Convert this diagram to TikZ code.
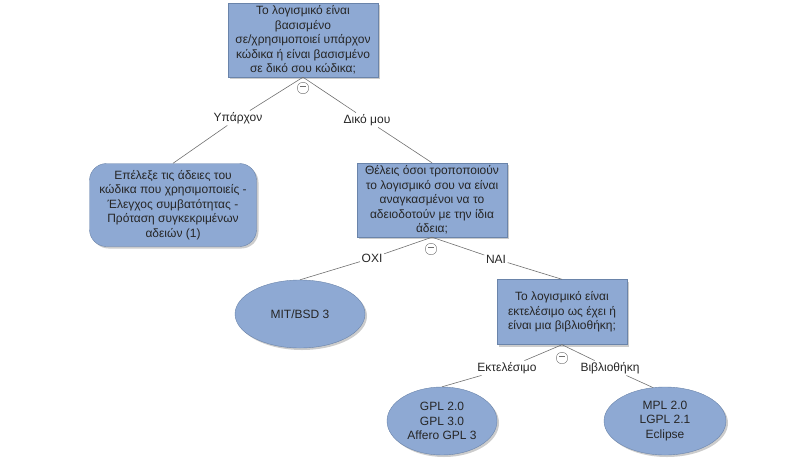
\documentclass[tikz,border=0pt]{standalone}
\usepackage{fontspec}
\setmainfont{Liberation Sans}
\usetikzlibrary{shapes.geometric,shadows}
\definecolor{qblue}{HTML}{8EA9D3}
\definecolor{qedge}{HTML}{6A84AA}
\definecolor{qline}{HTML}{707070}
\newcommand{\qfont}{\fontsize{12}{14.4}\selectfont}

\begin{document}
\begin{tikzpicture}[x=1pt, y=-1pt,
  qshadow/.style={drop shadow={shadow xshift=2pt, shadow yshift=-2pt, fill=black!40}},
  qbox/.style={rectangle, draw=qedge, fill=qblue, qshadow, align=center,
               font=\qfont, text=black!85, inner sep=2pt},
  qround/.style={qbox, rounded corners=17pt},
  qleaf/.style={ellipse, draw=qedge, fill=qblue, qshadow, align=center,
                font=\qfont, text=black!85, inner sep=0pt},
  choice/.style={font=\qfont, text=black!85, inner sep=1.5pt},
  minus/.style={circle, draw=qline, inner sep=0pt, minimum size=11.5pt},
  link/.style={qline, line width=0.6pt},
]
\useasboundingbox (0,0) rectangle (791,458);

\node[qbox, minimum width=150pt, minimum height=74pt] (q1) at (303,40)
  {Το λογισμικό είναι\\βασισμένο\\σε/χρησιμοποιεί υπάρχον\\κώδικα ή είναι βασισμένο\\σε δικό σου κώδικα;};
\node[minus] (m1) at (303,88) {\textcolor{qline}{\rule[2.6pt]{6pt}{0.8pt}}};
\node[choice] (c1) at (238,118) {Υπάρχον};
\node[choice] (c2) at (367,120) {Δικό μου};

\node[qround, minimum width=167pt, minimum height=83pt] (r1) at (173,205)
  {Επέλεξε τις άδειες του\\κώδικα που χρησιμοποιείς -\\Έλεγχος συμβατότητας -\\Πρόταση συγκεκριμένων\\αδειών (1)};

\node[qbox, minimum width=150pt, minimum height=74pt] (q2) at (432,200)
  {Θέλεις όσοι τροποποιούν\\το λογισμικό σου να είναι\\αναγκασμένοι να το\\αδειοδοτούν με την ίδια\\άδεια;};
\node[minus] (m2) at (431,249) {\textcolor{qline}{\rule[2.6pt]{6pt}{0.8pt}}};
\node[choice] (c3) at (372,258) {ΟΧΙ};
\node[choice] (c4) at (496,259) {ΝΑΙ};

\node[qleaf, minimum width=130pt, minimum height=68pt] (l1) at (300,314) {MIT/BSD 3};

\node[qbox, minimum width=130pt, minimum height=65pt] (q3) at (562,312)
  {Το λογισμικό είναι\\εκτελέσιμο ως έχει ή\\είναι μια βιβλιοθήκη;};
\node[minus] (m3) at (562,358) {\textcolor{qline}{\rule[2.6pt]{6pt}{0.8pt}}};
\node[choice] (c5) at (507,368) {Εκτελέσιμο};
\node[choice] (c6) at (610,368) {Βιβλιοθήκη};

\node[qleaf, minimum width=110pt, minimum height=68pt] (l2) at (442,421)
  {GPL 2.0\\GPL 3.0\\Affero GPL 3};
\node[qleaf, minimum width=122pt, minimum height=68pt] (l3) at (665,421)
  {MPL 2.0\\LGPL 2.1\\Eclipse};

\draw[link] (q1.south) -- (c1);
\draw[link] (q1.south) -- (c2);
\draw[link] (c1) -- (r1.north);
\draw[link] (c2) -- (q2.north);
\draw[link] (q2.south) -- (c3);
\draw[link] (q2.south) -- (c4);
\draw[link] (c3) -- (l1.north);
\draw[link] (c4) -- (q3.north);
\draw[link] (q3.south) -- (c5);
\draw[link] (q3.south) -- (c6);
\draw[link] (c5) -- (l2.north);
\draw[link] (c6) -- (l3.110);

\end{tikzpicture}
\end{document}
